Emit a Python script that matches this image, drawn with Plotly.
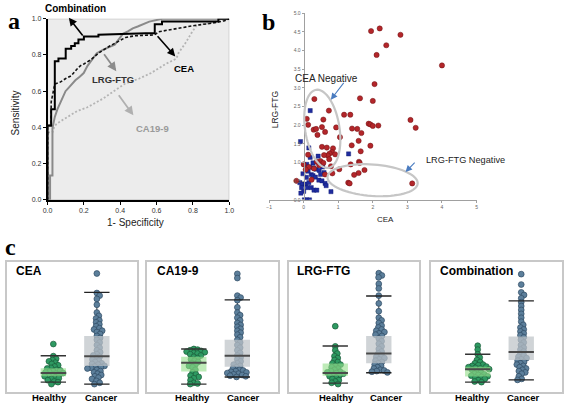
import numpy as np
import plotly.graph_objects as go

W, H = 567, 407
def PX(x): return x / W
def PY(y): return 1 - y / H

# ---------------- Panel a: ROC data ----------------
comb_fpr = [0, 0, 0.02, 0.02, 0.04, 0.04, 0.06, 0.06, 0.10, 0.10, 0.13, 0.13, 0.15, 0.15, 0.17, 0.17,
            0.20, 0.20, 0.28, 0.28, 0.54, 0.59, 0.59, 0.63, 0.63, 0.94, 0.94, 1.0]
comb_tpr = [0, 0.41, 0.41, 0.50, 0.50, 0.765, 0.765, 0.78, 0.78, 0.835, 0.835, 0.85, 0.85, 0.865, 0.865, 0.885,
            0.885, 0.902, 0.902, 0.912, 0.92, 0.92, 0.97, 0.97, 0.985, 0.985, 1.0, 1.0]
cea_fpr = [0, 0, 0.02, 0.02, 0.04, 0.07, 0.10, 0.13, 0.16, 0.18, 0.20, 0.24, 0.28, 0.31, 0.34, 0.39,
           0.43, 0.48, 0.59, 0.61, 0.70, 0.81, 0.90, 0.97, 1.0]
cea_tpr = [0, 0.41, 0.41, 0.54, 0.64, 0.65, 0.67, 0.685, 0.72, 0.74, 0.75, 0.775, 0.81, 0.83, 0.848, 0.875,
           0.897, 0.906, 0.911, 0.928, 0.945, 0.963, 0.975, 0.988, 1.0]
lrg_fpr = [0, 0.014, 0.014, 0.027, 0.027, 0.040, 0.054, 0.072, 0.087, 0.099, 0.117, 0.135, 0.153, 0.177,
           0.199, 0.220, 0.244, 0.271, 0.307, 0.343, 0.370, 0.397, 0.415, 0.442, 0.469, 0.496, 0.532, 0.560,
           0.632, 1.0]
lrg_tpr = [0, 0, 0.134, 0.134, 0.395, 0.458, 0.50, 0.54, 0.576, 0.60, 0.62, 0.64, 0.66, 0.68, 0.70, 0.74,
           0.775, 0.81, 0.83, 0.844, 0.857, 0.893, 0.917, 0.93, 0.947, 0.957, 0.971, 0.984, 1.0, 1.0]
ca_fpr = [0, 0, 0.027, 0.036, 0.049, 0.099, 0.162, 0.217, 0.307, 0.379, 0.424, 0.505, 0.569, 0.650, 0.709,
          0.72, 0.758, 0.79, 0.82, 0.92, 0.984, 1.0]
ca_tpr = [0, 0.373, 0.373, 0.40, 0.42, 0.45, 0.49, 0.51, 0.56, 0.61, 0.64, 0.67, 0.70, 0.75, 0.78, 0.81,
          0.864, 0.918, 0.963, 0.982, 0.995, 1.0]

# ---------------- Panel b: scatter data ----------------
cancer_cea = [1.95, 2.2, 2.8, 2.39, 2.11, 4.0, 2.05, 0.31, 1.63, 2.0, 0.73, 1.17, 1.35, 0.09, 0.57, 3.09,
              1.88, 1.93, 2.0, 2.16, 0.94, 0.13, 0.53, 1.4, 1.55, 3.24, 0.29, 0.36, 0.62, 1.67, 0.4, 1.05,
              1.59, 1.39, 1.93, 0.53, 0.67, 0.85, 0.82, 0.75, 0.7, 0.59, 0.91, 0.13, 1.65, 1.6, 1.62, 0.74,
              0.49, 0.57, 0.38, 0.0, 0.3, 0.15, 1.36, 0.79, 1.03, 1.76, 1.59, 1.46, 0.83, 0.06, 0.23, 1.29,
              1.33, 3.14, -0.21, 0.62, 0.45]
cancer_lrg = [4.52, 4.59, 4.42, 4.14, 3.88, 3.6, 3.1, 2.70, 2.72, 2.65, 2.39, 2.28, 2.28, 2.17, 2.15, 2.14,
              2.04, 2.02, 1.98, 1.99, 1.94, 2.01, 1.95, 1.91, 1.90, 1.93, 1.88, 1.90, 1.82, 1.79, 1.74, 1.68,
              1.58, 1.46, 1.45, 1.42, 1.40, 1.38, 1.28, 1.24, 1.19, 1.20, 1.22, 1.21, 1.30, 1.02, 0.99, 1.09,
              1.04, 0.99, 1.02, 0.95, 0.84, 0.88, 0.95, 0.90, 0.82, 0.80, 0.72, 0.67, 0.71, 0.81, 0.54, 0.46,
              0.44, 0.44, 0.51, 0.68, 0.93]
healthy_cea = [-0.09, 0.19, 0.15, 0.42, 1.30, 0.19, 0.27, 0.09, 0.17, 0.28, 0.36, 0.45, 0.55, 0.59, -0.02,
               0.22, 0.08, 0.27, 0.34, 0.44, 0.53, 0.62, 0.65, -0.11, -0.04, 0.06, 0.11, 0.22, 0.30, 0.38,
               0.0, -0.08, 0.79, 0.02, 0.09, 0.17, -0.06, 0.15, 0.49, 0.13]
healthy_lrg = [1.56, 2.39, 1.39, 1.17, 1.23, 1.14, 0.99, 0.95, 0.88, 0.86, 0.82, 0.79, 0.88, 0.73, 0.70,
               0.68, 0.60, 0.65, 0.61, 0.53, 0.51, 0.44, 0.38, 0.46, 0.42, 0.42, 0.33, 0.33, 0.26, 0.26,
               0.23, 0.18, 0.22, 0.0, 0.0, 0.0, 0.33, 0.46, 0.68, 0.77]

# ---------------- Panel c: box data (relative level, 0-100) ----------------
box_names = ["CEA", "CA19-9", "LRG-FTG", "Combination"]
group_labels = ["Healthy", "Cancer"]
healthy_lower = [7.5, 6.0, 6.75, 7.5]
healthy_q1 = [12.0, 15.75, 12.5, 11.75]
healthy_median = [14.5, 22.5, 14.5, 17.5]
healthy_q3 = [18.25, 27.0, 21.75, 19.25]
healthy_upper = [27.75, 33.0, 35.25, 29.0]
cancer_lower = [6.0, 11.5, 14.75, 9.25]
cancer_q1 = [20.0, 19.25, 22.0, 24.5]
cancer_median = [27.5, 27.75, 29.5, 30.75]
cancer_q3 = [43.0, 40.0, 43.0, 42.5]
cancer_upper = [76.5, 70.75, 73.75, 70.0]

cea_healthy_pts = [36.8, 27.5, 25.5, 24.5, 23.5, 22.5, 21.5, 20.5, 19.5, 18.5, 18, 17, 16.5, 16, 15.5, 15,
                   14.5, 14, 13.5, 13, 12.5, 12, 11, 10.5, 10, 9, 8, 7.5, 6]
cea_cancer_pts = [91, 76, 74, 71.5, 67, 61, 58.5, 56.5, 55, 53.5, 52, 50.5, 49, 48, 47, 46, 44.5, 43, 41.5,
                  40, 38, 36, 34, 32, 30.5, 29, 28, 27, 26, 25, 24, 23, 22, 21.5, 21, 20, 19.5, 19, 18.5,
                  18, 17, 16, 15, 14, 13, 12, 11, 10, 8.5, 7, 6]
ca_healthy_pts = [33, 32.5, 32, 31.5, 31, 30.5, 30, 29.5, 29, 28, 27, 26, 25, 24, 23, 22, 21, 20, 19, 17,
                  15, 13.5, 12.5, 11.5, 10.5, 9, 7, 6.5, 6]
ca_cancer_pts = [90.75, 87.5, 74, 72.5, 70.5, 65, 61, 59, 57, 55, 53, 51.5, 50, 48.5, 47, 45.5, 44, 42, 40,
                 38, 36, 34, 32, 30, 28, 26.5, 25, 23.5, 22, 21, 20, 19, 18, 17, 16.5, 16, 15.5, 15, 14.5,
                 14, 13.5, 13, 12.5, 12, 11.5]
lrg_healthy_pts = [50.5, 35, 32, 29.5, 27.5, 26, 24.5, 23, 22, 21, 20, 19, 18, 17, 16, 15.5, 15, 14.5, 14,
                   13, 12.5, 12, 11, 10, 9, 8, 7, 6]
lrg_cancer_pts = [91.25, 89.5, 88, 83, 79.5, 74, 68, 62, 57, 55, 53, 51, 49.5, 48, 47, 46, 45, 44, 43, 41,
                  39, 37, 35, 33, 31, 29.5, 28, 27, 26, 25, 24, 23, 22, 21, 20, 19, 18, 17, 16.5, 16, 15.5, 15]
comb_healthy_pts = [35.5, 32.5, 29, 26.5, 24.5, 23, 22, 21, 20.5, 20, 19.5, 19, 18.5, 18, 17.5, 17, 16, 15,
                    14, 13.5, 13, 12.5, 12, 11.5, 11, 10, 9, 8, 7.5]
comb_cancer_pts = [90.5, 82.5, 76.5, 74.5, 72, 69, 66, 63, 60, 57, 54, 51.5, 49.5, 48, 46.5, 45, 43.5, 42,
                   40, 38, 36, 34, 32.5, 31, 29.5, 28, 27, 26, 25, 24, 23, 22, 21, 20, 19, 18, 17, 16, 15,
                   14, 12, 10, 9.25]
healthy_points = [cea_healthy_pts, ca_healthy_pts, lrg_healthy_pts, comb_healthy_pts]
cancer_points = [cea_cancer_pts, ca_cancer_pts, lrg_cancer_pts, comb_cancer_pts]

FONT = "Liberation Sans"
fig = go.Figure()

# ---------- Panel a traces ----------
fig.add_trace(go.Scatter(x=ca_fpr, y=ca_tpr, mode="lines", xaxis="x", yaxis="y", cliponaxis=False,
                         line=dict(color="#b4b4b4", width=1.8, dash="2px,2px")))
fig.add_trace(go.Scatter(x=lrg_fpr, y=lrg_tpr, mode="lines", xaxis="x", yaxis="y", cliponaxis=False,
                         line=dict(color="#8a8a8a", width=2)))
fig.add_trace(go.Scatter(x=cea_fpr, y=cea_tpr, mode="lines", xaxis="x", yaxis="y", cliponaxis=False,
                         line=dict(color="#111111", width=1.6, dash="3px,2px")))
fig.add_trace(go.Scatter(x=comb_fpr, y=comb_tpr, mode="lines", xaxis="x", yaxis="y", cliponaxis=False,
                         line=dict(color="#000000", width=2)))

# ---------- Panel b traces ----------
fig.add_trace(go.Scatter(x=healthy_cea, y=healthy_lrg, mode="markers", xaxis="x2", yaxis="y2",
                         marker=dict(symbol="square", size=4.2, color="#1f2c9e",
                                     line=dict(color="#101a70", width=0.4))))
fig.add_trace(go.Scatter(x=cancer_cea, y=cancer_lrg, mode="markers", xaxis="x2", yaxis="y2",
                         marker=dict(symbol="circle", size=5.2, color="#b3262a",
                                     line=dict(color="#6e1214", width=0.5))))

# ellipses (decoration) in panel b, built in pixel space then mapped to data
def ellipse_path(cx, cy, a, b, ang_deg):
    t = np.linspace(0, 2 * np.pi, 73)
    th = np.deg2rad(ang_deg)
    px = cx + a * np.cos(t) * np.cos(th) - b * np.sin(t) * np.sin(th)
    py = cy + a * np.cos(t) * np.sin(th) + b * np.sin(t) * np.cos(th)
    dxv = (px - 304) / 35.2
    dyv = (199.3 - py) / 38.0
    pts = [f"{x:.4f},{y:.4f}" for x, y in zip(dxv, dyv)]
    return "M " + " L ".join(pts) + " Z"

shapes = []
shapes.append(dict(type="rect", xref="x", yref="y", x0=0, x1=1, y0=0, y1=1, layer="below",
                   fillcolor="#ececec", line=dict(width=0)))
shapes.append(dict(type="path", xref="x2", yref="y2", path=ellipse_path(323, 127, 40.2, 17.5, 81),
                   line=dict(color="#c6c6c6", width=2.2)))
shapes.append(dict(type="path", xref="x2", yref="y2", path=ellipse_path(374.2, 179.3, 46, 16, 4.2),
                   line=dict(color="#c6c6c6", width=2.2)))
shapes.append(dict(type="rect", xref="x", yref="y", x0=0, x1=1, y0=0, y1=1, layer="below",
                   line=dict(color="#b0b0b0", width=1)))

# ---------- Panel c traces ----------
lefts = [2, 145, 289, 434]
PW = 132.5
HC, CC = 47.2, 91.5
SPACING = CC - HC
YS = 132.4 / 100.0
BW = 25.8 / SPACING

def swarm(vals, diam=3.9):
    ys = [v * YS for v in vals]
    order = sorted(range(len(vals)), key=lambda i: -vals[i])
    placed, xs = [], [0.0] * len(vals)
    for i in order:
        y = ys[i]
        cands = [0.0]
        for (qx, qy) in placed:
            d = y - qy
            if abs(d) < diam:
                r = (diam ** 2 - d ** 2) ** 0.5
                cands += [qx + r, qx - r]
        cands.sort(key=abs)
        for c in cands:
            if all((c - qx) ** 2 + (y - qy) ** 2 >= diam ** 2 - 1e-6 for qx, qy in placed):
                xs[i] = c
                break
        placed.append((xs[i], y))
    return [x / SPACING for x in xs]

groups = [
    dict(pos=0, pts=healthy_points, lo=healthy_lower, q1=healthy_q1, me=healthy_median, q3=healthy_q3,
         up=healthy_upper, fill="rgba(150,222,140,0.62)", mc="#2e9a62", ml="#1b5a39", cap="#333333"),
    dict(pos=1, pts=cancer_points, lo=cancer_lower, q1=cancer_q1, me=cancer_median, q3=cancer_q3,
         up=cancer_upper, fill="rgba(190,195,200,0.72)", mc="#5c7f9b", ml="#2f4b63", cap="#222222"),
]

for k in range(4):
    xa, ya = f"x{k+3}", f"y{k+3}"
    for g in groups:
        c = g["pos"]
        fig.add_trace(go.Scatter(x=[c, c], y=[g["lo"][k], g["up"][k]], mode="lines", xaxis=xa, yaxis=ya,
                                 line=dict(color="#444444", width=1.1)))
    for g in groups:
        c = g["pos"]
        vals = g["pts"][k]
        offs = swarm(vals)
        fig.add_trace(go.Scatter(x=[c + o for o in offs], y=vals, mode="markers", xaxis=xa, yaxis=ya,
                                 cliponaxis=False,
                                 marker=dict(size=5.8, color=g["mc"], line=dict(color=g["ml"], width=0.7))))
    for g in groups:
        c = g["pos"]
        x0, x1 = c - BW / 2, c + BW / 2
        fig.add_trace(go.Scatter(x=[x0, x1, x1, x0, x0], y=[g["q1"][k], g["q1"][k], g["q3"][k], g["q3"][k], g["q1"][k]],
                                 mode="lines", fill="toself", fillcolor=g["fill"], xaxis=xa, yaxis=ya,
                                 line=dict(width=0, color="rgba(0,0,0,0)")))
        fig.add_trace(go.Scatter(x=[x0, x1], y=[g["me"][k], g["me"][k]], mode="lines", xaxis=xa, yaxis=ya,
                                 line=dict(color="#4a4a4a", width=2)))
        fig.add_trace(go.Scatter(x=[x0, x1, None, x0, x1], y=[g["up"][k], g["up"][k], None, g["lo"][k], g["lo"][k]],
                                 mode="lines", xaxis=xa, yaxis=ya, line=dict(color=g["cap"], width=1.4)))

# ---------- Layout ----------
layout = dict(
    width=W, height=H, margin=dict(l=0, r=0, t=0, b=0), paper_bgcolor="white", plot_bgcolor="white",
    showlegend=False, font=dict(family=FONT, color="#222222"), hovermode=False,
    xaxis=dict(domain=[PX(43.3), PX(228.3)], range=[0, 1], anchor="y", showgrid=False, zeroline=False,
               showline=True, linecolor="#000000", linewidth=1.5, ticks="outside", ticklen=3, tickcolor="#000",
               tickvals=[0, 0.2, 0.4, 0.6, 0.8, 1.0], tickformat=".1f", tickfont=dict(size=7, color="#333")),
    yaxis=dict(domain=[PY(199.3), PY(15)], range=[0, 1], anchor="x", showgrid=False, zeroline=False,
               showline=True, linecolor="#000000", linewidth=1.5, ticks="outside", ticklen=3, tickcolor="#000",
               tickvals=[0, 0.2, 0.4, 0.6, 0.8, 1.0], tickformat=".1f", tickfont=dict(size=7, color="#333")),
    xaxis2=dict(domain=[PX(268.8), PX(480)], range=[-1, 5], anchor="y2", showgrid=False, zeroline=False,
                showline=True, linecolor="#a0a0a0", linewidth=1, ticks="outside", ticklen=2, tickcolor="#a0a0a0",
                tickvals=[-1, 0, 1, 2, 3, 4, 5], tickfont=dict(size=5, color="#666")),
    yaxis2=dict(domain=[PY(199.3), PY(9.3)], range=[0, 5], anchor="free", position=PX(304), showgrid=False,
                zeroline=False, showline=True, linecolor="#a0a0a0", linewidth=1, ticks="outside", ticklen=2,
                tickcolor="#a0a0a0", dtick=0.5, tick0=0, tickformat=".1f", tickfont=dict(size=5, color="#666")),
)
for k in range(4):
    L = lefts[k]
    layout[f"xaxis{k+3}"] = dict(domain=[PX(L), PX(L + PW)], range=[-HC / SPACING, (PW - HC) / SPACING],
                                 anchor=f"y{k+3}", showgrid=False, zeroline=False, showticklabels=False,
                                 showline=True, mirror=True, linecolor="#c8c8c8", linewidth=1.5, ticks="")
    layout[f"yaxis{k+3}"] = dict(domain=[PY(394.7), PY(262.3)], range=[0, 100], anchor=f"x{k+3}",
                                 showgrid=False, zeroline=False, showticklabels=False,
                                 showline=True, mirror=True, linecolor="#c8c8c8", linewidth=1.5, ticks="")
fig.update_layout(**layout)

ann = []
def text(x, y, s, size, color="#222", bold=False, angle=0, family=FONT, xanchor="center"):
    ann.append(dict(x=PX(x), y=PY(y), xref="paper", yref="paper", text=(f"<b>{s}</b>" if bold else s),
                    showarrow=False, textangle=angle, xanchor=xanchor, yanchor="middle",
                    font=dict(size=size, color=color, family=family)))

def arrow(tx, ty, hx, hy, color, width=1.5, size=1.0):
    ann.append(dict(x=PX(hx), y=PY(hy), xref="paper", yref="paper", ax=tx - hx, ay=ty - hy,
                    axref="pixel", ayref="pixel", text="", showarrow=True, arrowhead=2, arrowsize=size,
                    arrowwidth=width, arrowcolor=color))

# panel letters
text(9, 17, "a", 24, "#000", True, family="Liberation Serif")
text(268, 18, "b", 24, "#000", True, family="Liberation Serif")
text(6, 247, "c", 24, "#000", True, family="Liberation Serif")

# panel a labels
text(10.5, 111, "Sensitivity", 10, "#222", False, -90)
text(133, 222, "1- Specificity", 10, "#222")
text(71.7, 4.5, "Combination", 10, "#000", True)
text(182.5, 66, "CEA", 9.5, "#000", True)
text(110.3, 77, "LRG-FTG", 9.5, "#333", True)
text(150, 127, "CA19-9", 9.5, "#9a9a9a", True)
arrow(80, 33.3, 65, 14, "#000000", 1.6)
arrow(154.3, 31.7, 173.3, 53.3, "#000000", 1.6)
arrow(100, 50, 113.3, 68.3, "#8c8c8c", 1.8)
arrow(115, 91.7, 130.7, 113.3, "#b0b0b0", 1.8)

# panel b labels
text(275, 108, "LRG-FTG", 8.5, "#222", False, -90)
text(387, 219.5, "CEA", 8, "#222")
text(327.5, 75.5, "CEA Negative", 10, "#222")
text(468.3, 158.7, "LRG-FTG Negative", 9.2, "#222")
arrow(345.7, 79, 331.7, 97.3, "#4a7cc0", 1.1, 1.2)
arrow(418.3, 160, 407.7, 171, "#4a7cc0", 1.1, 1.2)

# panel c titles and group labels
title_x = [8.7, 152.3, 295.7, 440.3]
healthy_lbl = [45.8, 190.5, 337, 475.8]
cancer_lbl = [98, 243, 388.8, 528]
for k in range(4):
    text(title_x[k], 271.5, box_names[k], 12, "#000", True, xanchor="left")
    text(healthy_lbl[k], 400.8, group_labels[0], 9.5, "#000", True)
    text(cancer_lbl[k], 400.8, group_labels[1], 9.5, "#000", True)

fig.update_layout(annotations=ann, shapes=shapes)
fig.write_html("out.html", config={"displayModeBar": False},
               post_script="document.body.style.margin='0';document.body.style.overflow='hidden';")
